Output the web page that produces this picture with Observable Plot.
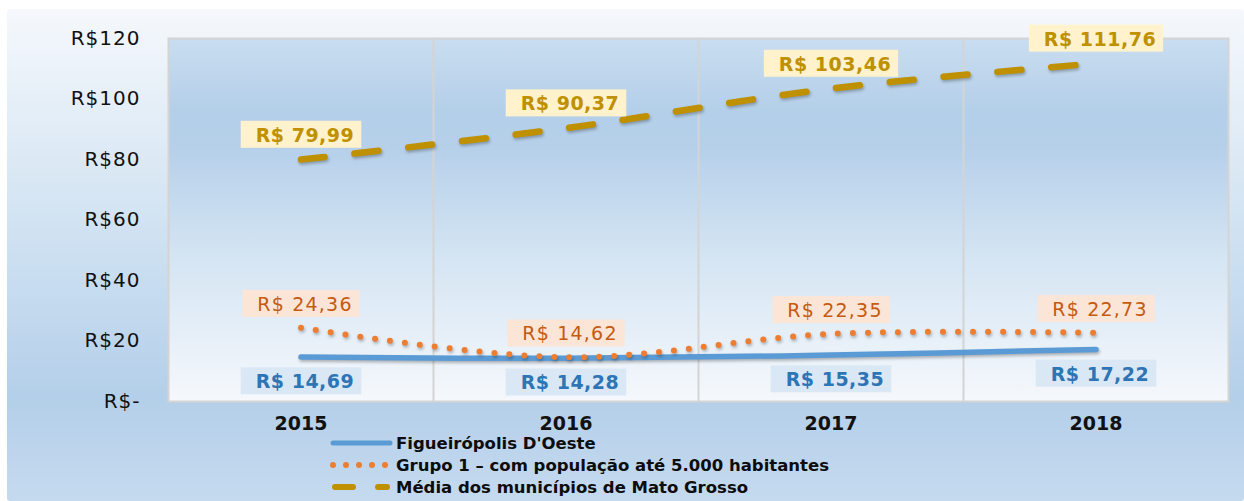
<!DOCTYPE html>
<html><head><meta charset="utf-8">
<script src="https://cdn.jsdelivr.net/npm/d3@7"></script>
<script src="https://cdn.jsdelivr.net/npm/@observablehq/plot@0.6"></script>
<style>
html,body{margin:0;padding:0;background:#fff;width:1244px;height:501px;overflow:hidden;}
#bg{position:absolute;left:7px;top:9px;width:1237px;height:492px;border-radius:3px;
  background:linear-gradient(to bottom,#f5f8fc 0%,#d5e5f3 39%,#cbdff1 51%,#b4cfe9 79%,#c5daef 100%);}
#chart{position:absolute;left:0;top:0;width:1244px;}
#chart svg{display:block;}
g[aria-label="y-axis tick label"] text{letter-spacing:1px;}
g[aria-description="lbl-gold"] text, g[aria-description="lbl-blue"] text{letter-spacing:0.5px;}
g[aria-description="lbl-orange"] text{letter-spacing:1.2px;}
g[aria-description^="series"] path{filter:drop-shadow(1px 2px 1.5px rgba(0,0,0,0.28));}
#legend{margin-left:330px;margin-top:2px;font-family:'DejaVu Sans',sans-serif;font-weight:bold;font-size:16.5px;color:#0d0d0d;}
#legend .row{display:flex;align-items:center;height:22px;}
#legend svg{width:64px;height:12px;margin-right:2px;flex:none;}
</style>
</head>
<body>
<div id="bg"></div>
<div id="chart"></div>
<script>
const years = [2015, 2016, 2017, 2018];
const figueiropolis = [14.69, 14.28, 15.35, 17.22];
const grupo1 = [24.36, 14.62, 22.35, 22.73];
const mediaMT = [79.99, 90.37, 103.46, 111.76];
const yTicks = [0, 20, 40, 60, 80, 100, 120];
const seriesNames = [
  "Figueirópolis D'Oeste",
  "Grupo 1 – com população até 5.000 habitantes",
  "Média dos municípios de Mato Grosso"
];
const colors = ["#5b9bd5", "#ed7d31", "#bf9000"];

const toRows = vals => years.map((year, i) => ({year, value: vals[i]}));
const fig = toRows(figueiropolis), gr = toRows(grupo1), med = toRows(mediaMT);
const fmt = v => "R$ " + v.toFixed(2).replace(".", ",");
const bounds = years.slice(0, -1).map(y => y + 0.5);

const plot = Plot.plot({
  width: 1244, height: 430,
  marginLeft: 168, marginRight: 16, marginTop: 38, marginBottom: 29,
  x: {type: "linear", domain: [years[0] - 0.5, years[years.length - 1] + 0.5], label: null},
  y: {domain: [0, 120], label: null},
  style: {fontFamily: "'DejaVu Sans', sans-serif", fontSize: "19px", background: "transparent", color: "#111", overflow: "visible"},
  marks: [
    Plot.frame({fill: "url(#plotGrad)"}),
    Plot.ruleX(bounds, {stroke: "#d4d4d4", strokeWidth: 2}),
    Plot.frame({stroke: "#d4d4d4", strokeWidth: 2}),
    Plot.axisY({ticks: yTicks, tickSize: 0, tickPadding: 28, label: null,
      tickFormat: d => d === 0 ? "R$-" : "R$" + d, fontSize: 20}),
    Plot.axisX({ticks: years, tickSize: 0, tickPadding: 15, label: null,
      tickFormat: d => String(d), fontWeight: "bold", fontSize: 19}),
    Plot.line(fig, {x: "year", y: "value", curve: "catmull-rom", stroke: colors[0], strokeWidth: 5.5, strokeLinecap: "round", ariaDescription: "series-fig"}),
    Plot.line(gr, {x: "year", y: "value", curve: "catmull-rom", stroke: colors[1], strokeWidth: 6, strokeDasharray: "0 15", strokeLinecap: "round", ariaDescription: "series-gr"}),
    Plot.line(med, {x: "year", y: "value", curve: "catmull-rom", stroke: colors[2], strokeWidth: 6.5, strokeDasharray: "24 30", strokeLinecap: "round", ariaDescription: "series-med"}),
    Plot.text(med, {x: "year", y: "value", text: d => fmt(d.value), dy: -24, dx: 4, fill: "#bf9000", fontWeight: "bold", fontSize: 19, ariaDescription: "lbl-gold"}),
    Plot.text(gr, {x: "year", y: "value", text: d => fmt(d.value), dy: -23, dx: 4, fill: "#c55a11", fontSize: 19, ariaDescription: "lbl-orange"}),
    Plot.text(fig, {x: "year", y: "value", text: d => fmt(d.value), dy: 25, dx: 4, fill: "#2e75b6", fontWeight: "bold", fontSize: 19, ariaDescription: "lbl-blue"})
  ]
});

d3.select(plot).insert("defs", ":first-child").html(`
  <linearGradient id="plotGrad" x1="0" y1="0" x2="0" y2="1">
    <stop offset="0" stop-color="#c9ddf0"/>
    <stop offset="0.2" stop-color="#b4cfe9"/>
    <stop offset="0.3" stop-color="#b6d0ea"/>
    <stop offset="0.61" stop-color="#d5e5f3"/>
    <stop offset="1" stop-color="#f5f8fc"/>
  </linearGradient>`);

const chart = document.getElementById("chart");
chart.appendChild(plot);

// label background boxes
const boxFill = {"lbl-gold": "#fff2cc", "lbl-orange": "#fbe5d6", "lbl-blue": "#dae8f5"};
plot.querySelectorAll('g[aria-description^="lbl"]').forEach(g => {
  const fill = boxFill[g.getAttribute("aria-description")];
  g.querySelectorAll("text").forEach(t => {
    const bb = t.getBBox();
    const capCenter = bb.y + bb.height * 0.484;
    const r = document.createElementNS("http://www.w3.org/2000/svg", "rect");
    r.setAttribute("x", bb.x - 15);
    r.setAttribute("width", bb.width + 22);
    r.setAttribute("y", capCenter - 13.5);
    r.setAttribute("height", 27);
    r.setAttribute("fill", fill);
    r.setAttribute("stroke", "none");
    const tr = t.getAttribute("transform");
    if (tr) r.setAttribute("transform", tr);
    g.insertBefore(r, t);
  });
});

// legend
const legend = document.createElement("div");
legend.id = "legend";
const swatches = [
  `<line x1="3" x2="60" y1="6" y2="6" stroke="${colors[0]}" stroke-width="5" stroke-linecap="round"/>`,
  `<line x1="3" x2="58" y1="6" y2="6" stroke="${colors[1]}" stroke-width="6" stroke-dasharray="0 13" stroke-linecap="round"/>`,
  `<line x1="5" x2="23" y1="6" y2="6" stroke="${colors[2]}" stroke-width="6" stroke-linecap="round"/><line x1="48" x2="57" y1="6" y2="6" stroke="${colors[2]}" stroke-width="6" stroke-linecap="round"/>`
];
seriesNames.forEach((name, i) => {
  const row = document.createElement("div");
  row.className = "row";
  row.innerHTML = `<svg viewBox="0 0 64 12">${swatches[i]}</svg><span></span>`;
  row.querySelector("span").textContent = name;
  legend.appendChild(row);
});
chart.appendChild(legend);
</script>
</body></html>
